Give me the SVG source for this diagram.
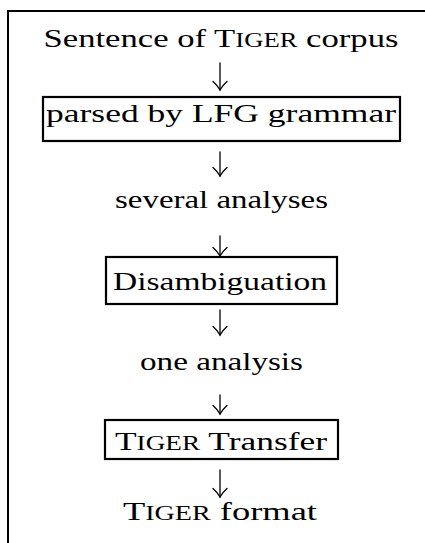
<svg xmlns="http://www.w3.org/2000/svg" width="425" height="543" viewBox="0 0 425 543">
  <style>
    .t { font-family: "Liberation Serif", "Times New Roman", serif; font-size: 26px; fill: #000; text-anchor: middle; }
    .sc { font-size: 20px; }
    .box { fill: none; stroke: #000; stroke-width: 2.2; }
    .frame { fill: none; stroke: #000; stroke-width: 2; }
    .arr { fill: none; stroke: #000; stroke-width: 1.3; stroke-linecap: round; }
  </style>
  <defs>
    <marker id="head" viewBox="-10 -9 12 18" refX="0" refY="0" markerWidth="12" markerHeight="18" markerUnits="userSpaceOnUse" orient="auto">
      <path d="M -8.5 -7 Q -4 -2 0 0 Q -4 2 -8.5 7" fill="none" stroke="#000" stroke-width="1.3" stroke-linecap="round"/>
    </marker>
  </defs>
  <rect width="425" height="543" fill="#fff"/>
  <path class="frame" d="M 8 543 L 8 11 L 425 11"/>

  <g id="n1"><text class="t" x="221" y="47" textLength="355" lengthAdjust="spacingAndGlyphs">Sentence of T<tspan class="sc">IGER</tspan> corpus</text></g>
  <g id="n2"><rect class="box" x="43" y="97" width="357" height="44"/><text class="t" x="221" y="122" textLength="350" lengthAdjust="spacingAndGlyphs">parsed by LFG grammar</text></g>
  <g id="n3"><text class="t" x="221.5" y="208" textLength="213" lengthAdjust="spacingAndGlyphs">several analyses</text></g>
  <g id="n4"><rect class="box" x="106" y="257" width="231" height="47"/><text class="t" x="220" y="290" textLength="214" lengthAdjust="spacingAndGlyphs">Disambiguation</text></g>
  <g id="n5"><text class="t" x="221.5" y="370" textLength="163" lengthAdjust="spacingAndGlyphs">one analysis</text></g>
  <g id="n6"><rect class="box" x="105" y="420" width="233" height="39"/><text class="t" x="221" y="450" textLength="212" lengthAdjust="spacingAndGlyphs">T<tspan class="sc">IGER</tspan> Transfer</text></g>
  <g id="n7"><text class="t" x="220" y="520" textLength="194" lengthAdjust="spacingAndGlyphs">T<tspan class="sc">IGER</tspan> format</text></g>

  <g id="connectors">
    <path class="arr" d="M 220 63 L 220 90" marker-end="url(#head)"/>
    <path class="arr" d="M 220 152 L 220 176" marker-end="url(#head)"/>
    <path class="arr" d="M 220 236 L 220 256" marker-end="url(#head)"/>
    <path class="arr" d="M 220 310 L 220 335" marker-end="url(#head)"/>
    <path class="arr" d="M 220 395 L 220 414" marker-end="url(#head)"/>
    <path class="arr" d="M 220 470 L 220 497" marker-end="url(#head)"/>
  </g>
</svg>
